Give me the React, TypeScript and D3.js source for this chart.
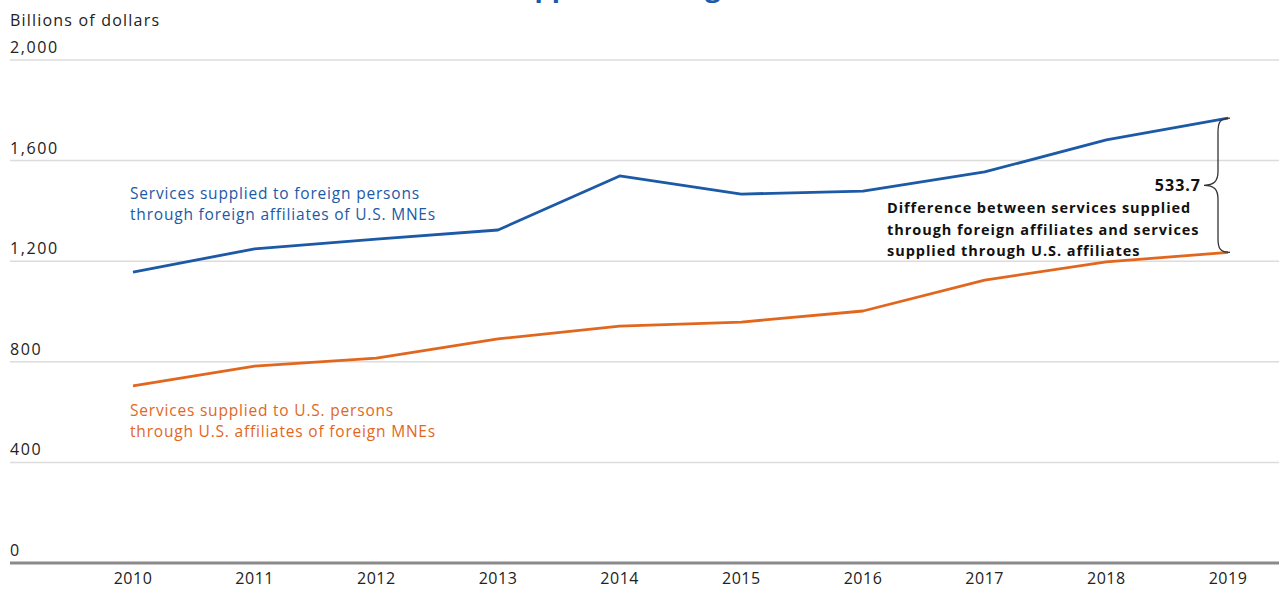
import React from "react";
import * as d3 from "d3";

const years = [2010, 2011, 2012, 2013, 2014, 2015, 2016, 2017, 2018, 2019];
const foreignAffiliates = [1157, 1249, 1288, 1324, 1539, 1467, 1479, 1555, 1682, 1768.7];
const usAffiliates = [704, 783, 815, 891, 942, 958, 1002, 1125, 1197, 1235];
const yTicks = [0, 400, 800, 1200, 1600, 2000];
const differenceLabel = "533.7";

const W = 1279;
const H = 589;
const BLUE = "#1c59a6";
const ORANGE = "#e2671e";
const FONT = "'Open Sans', Lato, sans-serif";

export default function App() {
  const x = d3.scaleLinear().domain([2010, 2019]).range([133, 1228]);
  const y = d3.scaleLinear().domain([0, 2000]).range([563, 60]);

  const line = d3
    .line<number>()
    .x((_, i) => x(years[i]))
    .y((d) => y(d));

  const lastX = x(years[years.length - 1]);
  const yTop = y(foreignAffiliates[foreignAffiliates.length - 1]);
  const yBot = y(usAffiliates[usAffiliates.length - 1]);
  const yMid = (yTop + yBot) / 2;
  const bx = lastX - 10; // brace spine
  const tip = bx - 14;
  const bracePath = [
    `M ${lastX + 2} ${yTop}`,
    `C ${bx + 2} ${yTop} ${bx} ${yTop + 4} ${bx} ${yTop + 14}`,
    `L ${bx} ${yMid - 14}`,
    `C ${bx} ${yMid - 4} ${bx - 4} ${yMid} ${tip} ${yMid}`,
    `C ${bx - 4} ${yMid} ${bx} ${yMid + 4} ${bx} ${yMid + 14}`,
    `L ${bx} ${yBot - 14}`,
    `C ${bx} ${yBot - 4} ${bx + 2} ${yBot} ${lastX + 2} ${yBot}`,
  ].join(" ");

  return (
    <svg
      width={W}
      height={H}
      style={{ position: "absolute", left: 0, top: 0, background: "#fff" }}
      fontFamily={FONT}
    >
      <text x={385} y={-3} fontSize={27} fontWeight={700} fill={BLUE}>
        Services Supplied Through Affiliates, 2010–2019
      </text>
      <text x={10} y={26} fontSize={16} fill="#222" letterSpacing={1.2}>
        Billions of dollars
      </text>
      {yTicks.map((t) => (
        <g key={t}>
          {t > 0 && (
            <line x1={10} x2={W} y1={y(t)} y2={y(t)} stroke="#dcdcdc" strokeWidth={1.5} />
          )}
          <text x={10} y={y(t) - 7} fontSize={16} fill="#222" letterSpacing={1.6}>
            {d3.format(",")(t)}
          </text>
        </g>
      ))}
      <line x1={10} x2={W} y1={y(0)} y2={y(0)} stroke="#8a8a8a" strokeWidth={3} />
      {years.map((yr) => (
        <text key={yr} x={x(yr)} y={584} textAnchor="middle" fontSize={16} fill="#222" letterSpacing={0.5}>
          {yr}
        </text>
      ))}
      <path d={line(foreignAffiliates) || ""} fill="none" stroke={BLUE} strokeWidth={2.8} strokeLinejoin="round" />
      <path d={line(usAffiliates) || ""} fill="none" stroke={ORANGE} strokeWidth={2.8} strokeLinejoin="round" />

      <text x={130} y={199} fontSize={15.5} fill={BLUE} letterSpacing={0.8}>
        <tspan x={130}>Services supplied to foreign persons</tspan>
        <tspan x={130} dy={21}>through foreign affiliates of U.S. MNEs</tspan>
      </text>
      <text x={130} y={416} fontSize={15.5} fill={ORANGE} letterSpacing={0.8}>
        <tspan x={130}>Services supplied to U.S. persons</tspan>
        <tspan x={130} dy={21}>through U.S. affiliates of foreign MNEs</tspan>
      </text>

      <path d={bracePath} fill="none" stroke="#333" strokeWidth={1.3} />
      <text x={tip - 3} y={yMid + 6} textAnchor="end" fontSize={16} fontWeight={700} fill="#111" letterSpacing={1}>
        {differenceLabel}
      </text>
      <text x={887} y={213} fontSize={14.5} fontWeight={700} fill="#111" letterSpacing={0.95}>
        <tspan x={887}>Difference between services supplied</tspan>
        <tspan x={887} dy={21.5}>through foreign affiliates and services</tspan>
        <tspan x={887} dy={21.5}>supplied through U.S. affiliates</tspan>
      </text>
    </svg>
  );
}
